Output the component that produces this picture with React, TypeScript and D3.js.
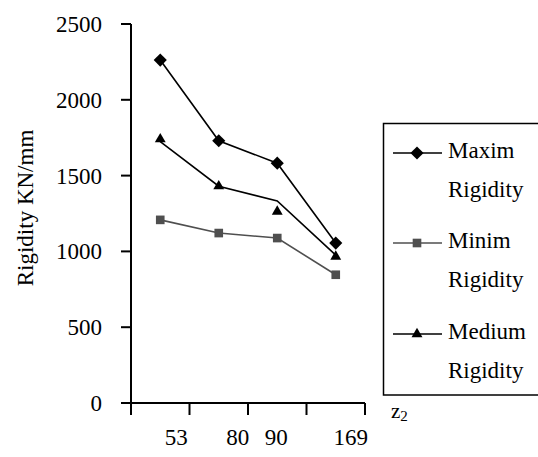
import React from 'react';
import * as d3 from 'd3';

// data
const categories = ['53', '80', '90', '169'];
const labelShift = [16, 19, -1, 15]; // x labels sit off the band centres in the original
const maxim = [2262, 1730, 1582, 1055];
const minim = [1208, 1121, 1088, 846];
const mediumLine = [1724, 1430, 1333, 976];
const mediumMarks = [1740, 1430, 1263, 966];
const yTicks = [0, 500, 1000, 1500, 2000, 2500];

const series = [
  { name: ['Maxim', 'Rigidity'], line: maxim, marks: maxim, color: '#000', marker: 'diamond' },
  { name: ['Minim', 'Rigidity'], line: minim, marks: minim, color: '#4f4f4f', marker: 'square' },
  { name: ['Medium', 'Rigidity'], line: mediumLine, marks: mediumMarks, color: '#000', marker: 'triangle' },
];

const FONT = 'Liberation Serif';
const FS = 23;

function markerPath(kind: string) {
  if (kind === 'diamond') return d3.symbol(d3.symbolDiamond2, 110)()!;
  if (kind === 'square') return d3.symbol(d3.symbolSquare2, 95)()!;
  return d3.symbol(d3.symbolTriangle2, 85)()!;
}

const x = d3.scaleBand().domain(categories).range([131, 365]).padding(0);
const y = d3.scaleLinear().domain([0, 2500]).range([403, 24]);
const cx = (i: number) => x(categories[i])! + x.bandwidth() / 2;
const line = d3.line<number>().x((_, i) => cx(i)).y((d) => y(d));
const bounds = [x(categories[0])!, ...categories.map((c) => x(c)! + x.bandwidth())];
const legendRows = [153, 243, 334];

export default function App() {
  return (
    <svg width={538} height={457} style={{ position: 'absolute', left: 0, top: 0 }}>
      <rect width={538} height={457} fill="#fff" />

      {/* axes */}
      <g stroke="#000" strokeWidth={2}>
        <line x1={131} x2={131} y1={y(2500)} y2={y(0)} />
        <line x1={131} x2={365} y1={y(0)} y2={y(0)} />
        {yTicks.map((t) => (
          <line key={t} x1={121} x2={131} y1={y(t)} y2={y(t)} />
        ))}
        {bounds.map((b, i) => (
          <line key={i} x1={b} x2={b} y1={y(0)} y2={y(0) + 12} />
        ))}
      </g>

      {yTicks.map((t) => (
        <text key={t} x={102} y={y(t) + 8} textAnchor="end" fontFamily={FONT} fontSize={FS}>
          {t}
        </text>
      ))}
      {categories.map((c, i) => (
        <text key={c} x={cx(i) + labelShift[i]} y={445} textAnchor="middle" fontFamily={FONT} fontSize={FS}>
          {c}
        </text>
      ))}
      <text x={391} y={418} fontFamily={FONT} fontSize={21}>
        z<tspan fontSize={15} dy={3}>2</tspan>
      </text>
      <text transform="translate(33,208) rotate(-90)" textAnchor="middle" fontFamily={FONT} fontSize={FS}>
        Rigidity KN/mm
      </text>

      {/* series */}
      {series.map((s, k) => (
        <g key={k}>
          <path d={line(s.line)!} fill="none" stroke={s.color} strokeWidth={1.6} />
          {s.marks.map((v, i) => (
            <path key={i} d={markerPath(s.marker)} transform={`translate(${cx(i)},${y(v)})`} fill={s.color} />
          ))}
        </g>
      ))}

      {/* legend */}
      <rect x={383.5} y={123.5} width={160} height={271.5} fill="#fff" stroke="#000" strokeWidth={1.5} />
      {series.map((s, k) => {
        const ry = legendRows[k];
        return (
          <g key={k}>
            <line x1={393} x2={442} y1={ry} y2={ry} stroke={s.color} strokeWidth={1.6} />
            <path d={markerPath(s.marker)} transform={`translate(417,${ry})`} fill={s.color} />
            <text x={448} y={ry + 5} fontFamily={FONT} fontSize={FS}>{s.name[0]}</text>
            <text x={448} y={ry + 44} fontFamily={FONT} fontSize={FS}>{s.name[1]}</text>
          </g>
        );
      })}
    </svg>
  );
}
